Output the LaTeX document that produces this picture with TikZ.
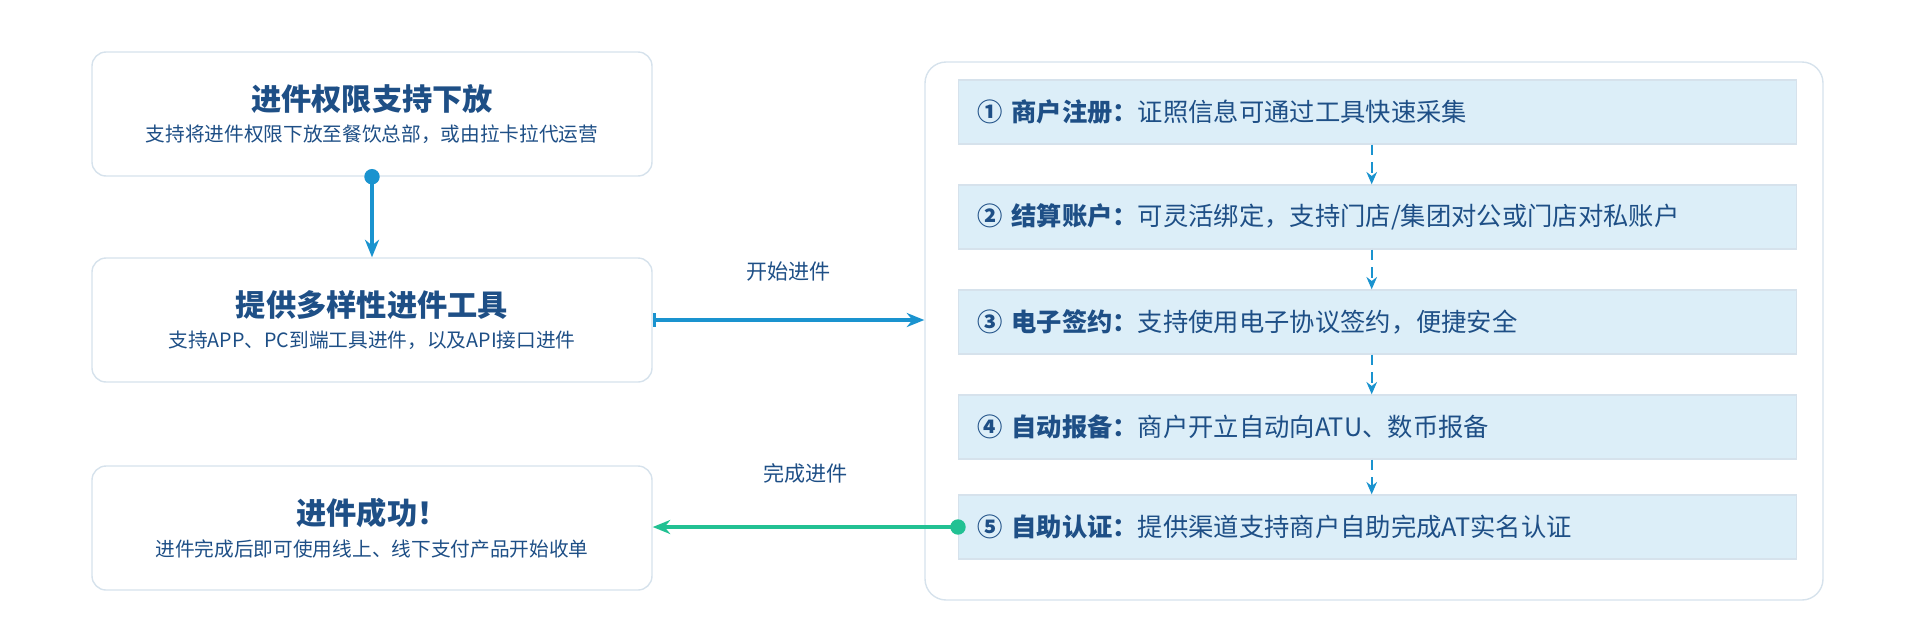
\documentclass[tikz,border=0pt]{standalone}
\usepackage{fontspec}
\setmainfont{Noto Sans CJK SC}
\usetikzlibrary{arrows.meta,positioning}
\definecolor{ttl}{HTML}{1E4F86}
\definecolor{flow}{HTML}{1A93CF}
\definecolor{done}{HTML}{22C193}
\definecolor{stepfill}{HTML}{DCEEF8}
\definecolor{edge}{HTML}{D6E2EC}
\tikzset{
	card/.style={draw=edge,rounded corners=4pt,fill=white,minimum width=5.6cm,minimum height=1.24cm,align=center,inner sep=0pt},
	stepbox/.style={draw=edge,fill=stepfill,minimum width=8.38cm,minimum height=0.64cm,anchor=west,inner sep=0pt,text=ttl,font=\fontsize{7.2}{8}\selectfont,text width=8.2cm,align=left},
	flowarrow/.style={flow,line width=1.2pt,-{Stealth[length=5pt,width=4pt]}},
	dasharrow/.style={flow,densely dashed,line width=0.6pt,-{Stealth[length=3.5pt,width=3pt]}}
}
\newcommand{\cardtext}[2]{{\fontsize{8.6}{9}\selectfont\bfseries #1}\\[-3pt]{\fontsize{5.6}{6.5}\selectfont #2}}
\begin{document}
\begin{tikzpicture}
	\useasboundingbox (0,0) rectangle (19.2,6.31);

	% left column
	\node[card,text=ttl] (perm) at (3.72,5.17) {\cardtext{进件权限支持下放}{支持将进件权限下放至餐饮总部，或由拉卡拉代运营}};
	\node[card,text=ttl] (tools) at (3.72,3.11) {\cardtext{提供多样性进件工具}{支持APP、PC到端工具进件，以及API接口进件}};
	\node[card,text=ttl] (ok) at (3.72,1.03) {\cardtext{进件成功！}{进件完成后即可使用线上、线下支付产品开始收单}};

	% right column
	\node[draw=edge,rounded corners=6pt,minimum width=8.98cm,minimum height=5.38cm,inner sep=0pt] (panel) at (13.74,3.0) {};
	\node[stepbox] (s1) at (9.58,5.19) {\hspace{0.1cm}\textbf{① 商户注册：}证照信息可通过工具快速采集};
	\node[stepbox] (s2) at (9.58,4.14) {\hspace{0.1cm}\textbf{② 结算账户：}可灵活绑定，支持门店/集团对公或门店对私账户};
	\node[stepbox] (s3) at (9.58,3.09) {\hspace{0.1cm}\textbf{③ 电子签约：}支持使用电子协议签约，便捷安全};
	\node[stepbox] (s4) at (9.58,2.04) {\hspace{0.1cm}\textbf{④ 自动报备：}商户开立自动向ATU、数币报备};
	\node[stepbox] (s5) at (9.58,1.04) {\hspace{0.1cm}\textbf{⑤ 自助认证：}提供渠道支持商户自助完成AT实名认证};

	\foreach \a/\b in {s1/s2,s2/s3,s3/s4,s4/s5}
		\draw[dasharrow] ([xshift=-0.06cm]\a.south) -- ([xshift=-0.06cm]\b.north);

	% connectors
	\fill[flow] (perm.south) circle (2.2pt);
	\draw[flowarrow] (perm.south) -- (tools.north);
	\draw[flowarrow] (tools.east) -- (panel.west |- tools.east) node[midway,above=0.25cm,text=ttl,font=\fontsize{6}{7}\selectfont] (start) {开始进件};
	\fill[flow] (tools.east) ++(0,-2pt) rectangle ++(1pt,4pt);
	\coordinate (s5w) at (s5.west);
	\fill[done] (s5w) circle (2.2pt);
	\draw[done,line width=1.2pt,-{Stealth[length=5pt,width=4pt]}] (s5w) -- (ok.east |- s5w) node[midway,above=0.3cm,text=ttl,font=\fontsize{6}{7}\selectfont] (fin) {完成进件};
\end{tikzpicture}
\end{document}
